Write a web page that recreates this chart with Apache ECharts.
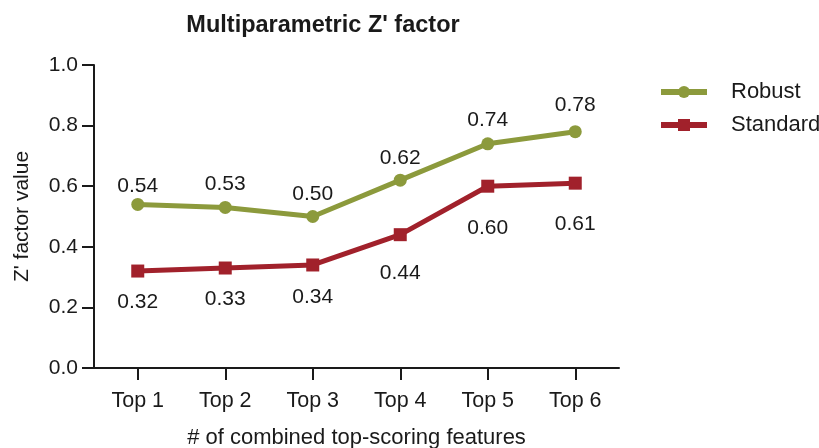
<!DOCTYPE html>
<html>
<head>
<meta charset="utf-8">
<script src="https://cdn.jsdelivr.net/npm/echarts@6/dist/echarts.min.js"></script>
<style>html,body{margin:0;padding:0;background:#fff}#c{width:819px;height:448px}</style>
</head>
<body>
<div id="c"></div>
<script>
var categories = ['Top 1', 'Top 2', 'Top 3', 'Top 4', 'Top 5', 'Top 6'];
var robust = [0.54, 0.53, 0.50, 0.62, 0.74, 0.78];
var standard = [0.32, 0.33, 0.34, 0.44, 0.60, 0.61];
var robustLabelGap = [1, 6, 5, 5, 7, 9];
var standardLabelGap = [14, 14, 15, 22, 25, 24];

var FONT = 'Liberation Sans, Arial, sans-serif';
var TXT = '#1a1a1a';
var OLIVE = '#8c9a3c';
var RED = '#a1212b';

var chart = echarts.init(document.getElementById('c'), null, {renderer: 'canvas'});

function items(vals, gaps, pos) {
  return vals.map(function (v, i) {
    return {value: v, label: {position: pos, distance: gaps[i]}};
  });
}

chart.setOption({
  animation: false,
  textStyle: {fontFamily: FONT},
  title: {
    text: "Multiparametric Z' factor",
    left: 318, top: 9, textAlign: 'center',
    textStyle: {fontFamily: FONT, fontSize: 23.5, fontWeight: 'bold', color: TXT}
  },
  legend: {
    left: 653, top: 76, orient: 'vertical',
    itemWidth: 46, itemHeight: 15, itemGap: 11,
    lineStyle: {width: 6},
    textStyle: {fontFamily: FONT, fontSize: 22, color: TXT, padding: [0, 0, 0, 19]},
    data: ['Robust', 'Standard']
  },
  grid: {left: 94, right: 200, top: 65, bottom: 80, containLabel: false, outerBoundsMode: 'none'},
  xAxis: {
    type: 'category', data: categories, boundaryGap: true,
    name: '# of combined top-scoring features', nameLocation: 'middle', nameGap: 59,
    nameTextStyle: {fontFamily: FONT, fontSize: 22, color: TXT},
    axisLine: {lineStyle: {color: TXT, width: 2}},
    axisTick: {show: true, alignWithLabel: true, length: 12, inside: false, lineStyle: {color: TXT, width: 2}},
    axisLabel: {fontFamily: FONT, fontSize: 21.5, color: TXT, margin: 22},
    splitLine: {show: false}
  },
  yAxis: {
    type: 'value', min: 0, max: 1, interval: 0.2,
    name: "Z' factor value", nameLocation: 'middle', nameGap: 61,
    nameTextStyle: {fontFamily: FONT, fontSize: 21, color: TXT},
    axisLine: {show: true, lineStyle: {color: TXT, width: 2}},
    axisTick: {show: true, length: 12, lineStyle: {color: TXT, width: 2}},
    axisLabel: {fontFamily: FONT, fontSize: 21, color: TXT, margin: 16,
      formatter: function (v) { return v.toFixed(1); }},
    splitLine: {show: false}
  },
  graphic: [{
    type: 'line', shape: {x1: 82, y1: 368, x2: 95, y2: 368},
    style: {stroke: TXT, lineWidth: 2}
  }],
  series: [{
    name: 'Robust', type: 'line', data: items(robust, robustLabelGap, 'top'),
    symbol: 'circle', symbolSize: 13,
    lineStyle: {color: OLIVE, width: 5}, itemStyle: {color: OLIVE},
    label: {show: true, fontFamily: FONT, fontSize: 21, color: TXT,
      formatter: function (p) { return p.value.toFixed(2); }}
  }, {
    name: 'Standard', type: 'line', data: items(standard, standardLabelGap, 'bottom'),
    symbol: 'rect', symbolSize: 13,
    lineStyle: {color: RED, width: 5}, itemStyle: {color: RED},
    label: {show: true, fontFamily: FONT, fontSize: 21, color: TXT,
      formatter: function (p) { return p.value.toFixed(2); }}
  }]
});
</script>
</body>
</html>
